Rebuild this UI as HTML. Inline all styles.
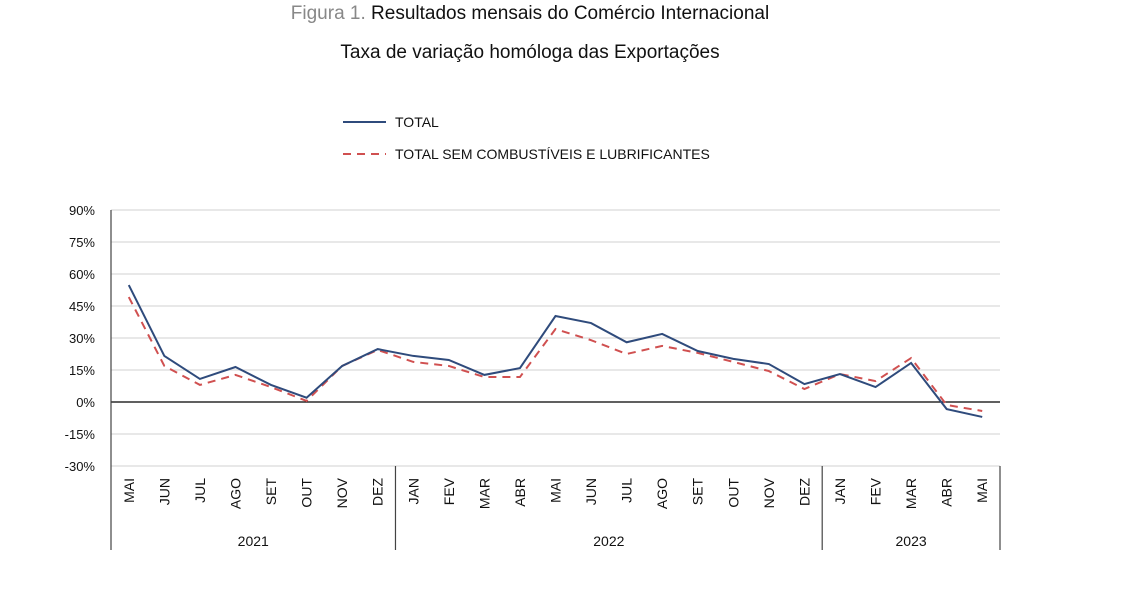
<!DOCTYPE html>
<html><head><meta charset="utf-8"><style>
body{margin:0;background:#fff;width:1128px;height:591px;overflow:hidden;font-family:"Liberation Sans",sans-serif;}
svg text{font-family:"Liberation Sans",sans-serif;}
</style></head><body>
<svg width="1128" height="591" id="svg">
<text x="530" y="19" text-anchor="middle" font-size="19"><tspan fill="#888">Figura 1.</tspan><tspan fill="#111"> Resultados mensais do Comércio Internacional</tspan></text>
<text x="530" y="58" text-anchor="middle" font-size="19" fill="#111">Taxa de variação homóloga das Exportações</text>
<g>
<line x1="343" y1="122" x2="386" y2="122" stroke="#2f4b7c" stroke-width="2"/>
<text x="395" y="127" font-size="14" fill="#111">TOTAL</text>
<line x1="343" y1="154" x2="386" y2="154" stroke="#d05050" stroke-width="2" stroke-dasharray="8,6"/>
<text x="395" y="159" font-size="14" fill="#111">TOTAL SEM COMBUSTÍVEIS E LUBRIFICANTES</text>
</g>
<g id="g"></g>
</svg>
<script>
const months=["MAI","JUN","JUL","AGO","SET","OUT","NOV","DEZ","JAN","FEV","MAR","ABR","MAI","JUN","JUL","AGO","SET","OUT","NOV","DEZ","JAN","FEV","MAR","ABR","MAI"];
const years=[["2021",0,8],["2022",8,20],["2023",20,25]];
const total=[54.8,21.6,10.8,16.4,8,2,16.9,24.8,21.6,19.7,12.7,15.9,40.3,37,28,31.9,23.9,20.2,17.8,8.4,13.1,7,18.3,-3.3,-7];
const semComb=[49.2,16.9,8,12.7,7,0.5,16.9,24.4,18.8,16.9,11.7,11.7,34.2,29,22.5,26.3,23,18.8,14.5,6.1,13.1,9.8,20.6,-1.4,-4.2];
const ticks=[90,75,60,45,30,15,0,-15,-30];
const NS="http://www.w3.org/2000/svg",g=document.getElementById('g');
const X0=111,X1=1000,Y0=210,Y1=466,bw=(X1-X0)/months.length;
const y=v=>Y0+(90-v)/120*(Y1-Y0);
const x=i=>X0+bw*(i+0.5);
function mk(t,a,p){const e=document.createElementNS(NS,t);for(const k in a)e.setAttribute(k,a[k]);(p||g).appendChild(e);return e;}
ticks.forEach(t=>{
 const l=mk('line',{x1:X0,x2:X1,y1:y(t),y2:y(t),stroke:t===0?'#000':'#d9d9d9','stroke-width':1.3});
 
 
 const tx=mk('text',{x:95,y:y(t)+5,'text-anchor':'end','font-size':13,fill:'#111'});tx.textContent=t+'%';
 
 
});
const ax=mk('line',{x1:X0,x2:X0,y1:Y0,y2:550,stroke:'#444','stroke-width':1.2});


months.forEach((m,i)=>{
 const t=mk('text',{transform:`translate(${x(i)+5},${478}) rotate(-90)`,'text-anchor':'end','font-size':14,fill:'#111'});t.textContent=m;
 
 
});
years.forEach(([yr,a,b])=>{
 const t=mk('text',{x:(X0+bw*a+X0+bw*b)/2,y:546,'text-anchor':'middle','font-size':14,fill:'#111'});t.textContent=yr;
 
 
 const s=mk('line',{x1:X0+bw*b,x2:X0+bw*b,y1:466,y2:550,stroke:'#444','stroke-width':1.2});
 
 
});
const p2=mk('polyline',{points:semComb.map((v,i)=>x(i)+','+y(v)).join(' '),fill:'none',stroke:'#d05050','stroke-width':2,'stroke-dasharray':'8,6'});


const p1=mk('polyline',{points:total.map((v,i)=>x(i)+','+y(v)).join(' '),fill:'none',stroke:'#2f4b7c','stroke-width':2});


</script>
</body></html>
